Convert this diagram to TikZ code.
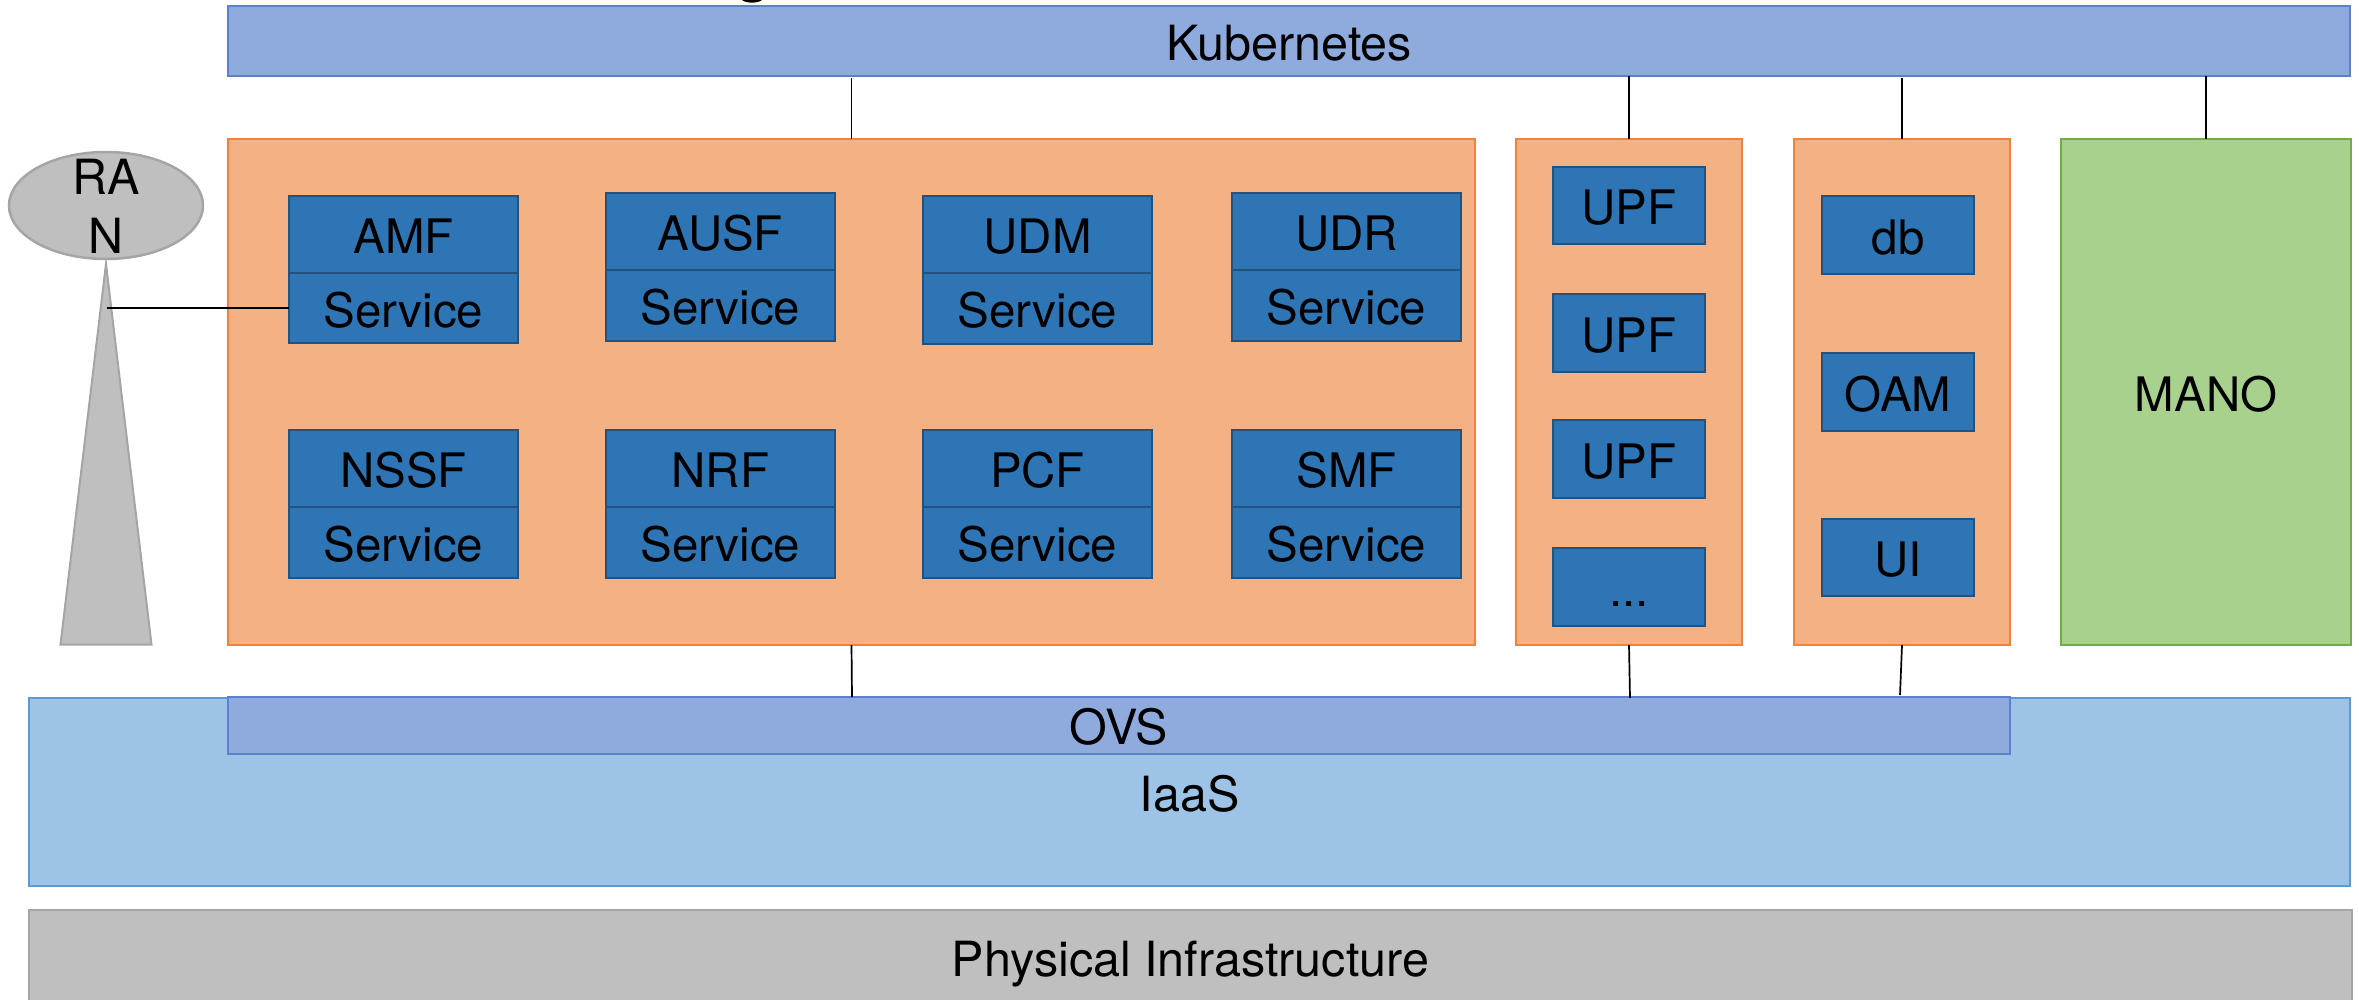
\documentclass[tikz,border=0pt]{standalone}
\usepackage{fontspec}
\usetikzlibrary{shapes.geometric}
\setmainfont{TeX Gyre Heros}
\definecolor{kubefill}{HTML}{8FAADC}
\definecolor{kubeline}{HTML}{5B80CC}
\definecolor{panelfill}{HTML}{F4B183}
\definecolor{panelline}{HTML}{F0823A}
\definecolor{unitfill}{HTML}{2E75B6}
\definecolor{unitline}{HTML}{22527F}
\definecolor{manofill}{HTML}{A9D18E}
\definecolor{manoline}{HTML}{70AD47}
\definecolor{iaasfill}{HTML}{9DC3E6}
\definecolor{iaasline}{HTML}{5B9BD5}
\definecolor{grayfill}{HTML}{BFBFBF}
\definecolor{grayline}{HTML}{A5A5A5}
\tikzset{
  base/.style={rectangle,inner sep=0pt,outer sep=0pt,line width=2pt,text=black,
    font=\fontsize{48.5}{48.5}\selectfont,text height=38pt,text depth=0pt},
  kubebox/.style={base,draw=kubeline,fill=kubefill},
  panelbox/.style={base,draw=panelline,fill=panelfill},
  unitbox/.style={base,draw=unitline,fill=unitfill,line width=2.5pt,font=\fontsize{47.5}{47.5}\selectfont},
  manobox/.style={base,draw=manoline,fill=manofill,font=\fontsize{47.5}{47.5}\selectfont},
  iaasbox/.style={base,draw=iaasline,fill=iaasfill},
  physbox/.style={base,draw=grayline,fill=grayfill},
  link/.style={draw=black,line width=1.7pt},
}
% name, x0, y0, x1, y1, style, text
\newcommand{\bx}[7]{\node[#6,minimum width={(#4)-(#2)},minimum height={(#5)-(#3)}] (#1)
  at ({((#2)+(#4))/2},{((#3)+(#5))/2}) {#7};}
% name, x0, y0, ymid, y1, title
\newcommand{\nf}[6]{%
  \bx{#1}{#2}{#3}{#2+229}{#4}{unitbox}{#6}
  \bx{#1s}{#2}{#4}{#2+229}{#5}{unitbox}{Service}}
\begin{document}
\begin{tikzpicture}[x=1pt,y=-1pt]
\useasboundingbox (0,0) rectangle (2359,999);
\clip (0,0) rectangle (2359,999);
% fragment at the top edge
\fill[black] (742,0) .. controls (746,3.5) and (758,3.5) .. (762,0) -- cycle;
% layers
\bx{kube}{228}{6}{2350}{76}{kubebox}{Kubernetes}
\bx{phys}{29}{910}{2352}{1005}{physbox}{Physical Infrastructure}
\bx{iaas}{29}{698}{2350}{886}{iaasbox}{IaaS}
\bx{ovs}{228}{697}{2010}{754}{kubebox}{OVS}
% panels
\bx{core}{228}{139}{1475}{645}{panelbox}{}
\bx{upfp}{1516}{139}{1742}{645}{panelbox}{}
\bx{oamp}{1794}{139}{2010}{645}{panelbox}{}
\bx{mano}{2061}{139}{2351}{645}{manobox}{MANO}
% network functions
\nf{amf}{289}{196}{273}{343}{AMF}
\nf{ausf}{606}{193}{270}{341}{AUSF}
\nf{udm}{923}{196}{273}{344}{UDM}
\nf{udr}{1232}{193}{270}{341}{UDR}
\nf{nssf}{289}{430}{507}{578}{NSSF}
\nf{nrf}{606}{430}{507}{578}{NRF}
\nf{pcf}{923}{430}{507}{578}{PCF}
\nf{smf}{1232}{430}{507}{578}{SMF}
% UPF column
\bx{upfa}{1553}{167}{1705}{244}{unitbox}{UPF}
\bx{upfb}{1553}{294}{1705}{372}{unitbox}{UPF}
\bx{upfc}{1553}{420}{1705}{498}{unitbox}{UPF}
\bx{upfd}{1553}{548}{1705}{626}{unitbox}{...}
% OAM column
\bx{db}{1822}{196}{1974}{274}{unitbox}{db}
\bx{oam}{1822}{353}{1974}{431}{unitbox}{OAM}
\bx{ui}{1822}{519}{1974}{596}{unitbox}{UI}
% RAN
\draw[draw=grayline,fill=grayfill,line width=2pt] (60.5,644.5) -- (106,264) -- (151.5,644.5) -- cycle;
\node[ellipse,draw=grayline,fill=grayfill,line width=2.5pt,inner sep=0pt,outer sep=0pt,
  minimum width=194pt,minimum height=107pt] (ran) at (106,205.5) {};
\node[align=center,inner sep=0pt,font=\fontsize{48.5}{59}\selectfont] (rantext) at (106,206.5) {RA\\N};
\coordinate (tower) at (107,308);
% connectors
\coordinate (oa) at (852,697);
\coordinate (ob) at (1630,698);
\coordinate (oc) at (1900,695);
\draw[link] (tower) -- (amfs.west);
\draw[link,shorten >=2pt] (core.north) -- (core.north |- kube.south);
\draw[link] (upfp.north) -- (upfp.north |- kube.south);
\draw[link,shorten >=2pt] (oamp.north) -- (oamp.north |- kube.south);
\draw[link] (mano.north) -- (mano.north |- kube.south);
\draw[link] (core.south) -- (oa);
\draw[link] (upfp.south) -- (ob);
\draw[link] (oamp.south) -- (oc);
\end{tikzpicture}
\end{document}
